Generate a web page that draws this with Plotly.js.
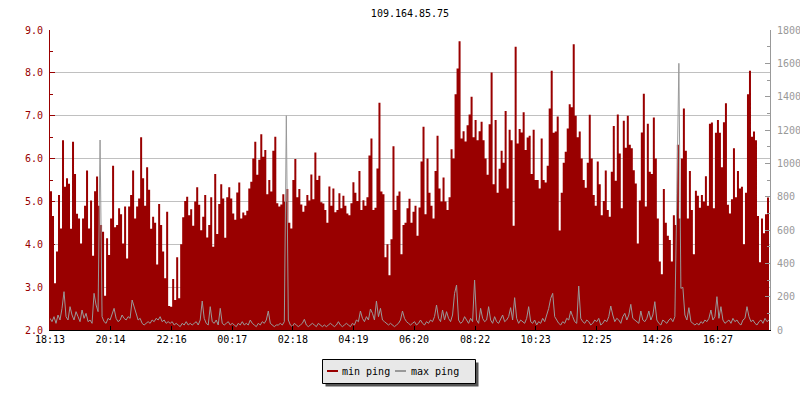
<!DOCTYPE html>
<html>
<head>
<meta charset="utf-8">
<script src="https://cdn.plot.ly/plotly-3.0.1.min.js"></script>
<style>html,body{margin:0;padding:0;background:#fff;}#chart{width:800px;height:400px;}</style>
</head>
<body>
<div id="chart"></div>
<script>
// Chart title
const chartTitle = '109.164.85.75';

// Sample interval in minutes (24 h of data, one sample every 4 minutes, starting 18:13)
const sampleMinutes = 4;

// min ping (left axis), one value per sample
const minPing = [
  5.24,4.66,3.09,3.83,5.15,4.37,6.43,5.34,5.54,5.41,4.36,6.39,5.64,4.71,4.6,4.02,4.6,4.9,5.72,4.37,
  5.02,3.73,5.24,5.58,4.9,4.45,4.29,2.8,4.14,3.75,4.6,5.83,4.4,4.45,4.84,4.7,4.02,4.88,3.67,4.88,
  5.15,5.72,4.6,4.88,5.07,6.5,5.54,4.9,5.8,5.27,4.36,4.64,4.5,3.53,4.94,4.45,3.83,3.21,4.76,2.56,
  2.54,3.19,2.7,3.7,2.74,4.0,4.63,5.01,5.11,4.68,4.82,4.43,5.0,5.33,4.92,4.33,4.64,5.15,4.16,4.45,
  5.1,3.94,5.64,4.24,4.94,5.4,5.07,4.15,5.1,5.33,5.07,4.72,4.57,5.21,5.44,4.6,4.74,4.68,4.78,5.3,
  5.46,6.0,6.39,5.62,5.97,6.57,6.04,6.2,5.17,5.5,5.23,6.18,6.51,4.96,4.88,4.93,5.17,4.99,5.29,4.5,
  4.37,5.5,5.99,5.1,5.29,4.93,4.76,4.9,5.15,5.02,5.63,5.05,6.14,5.5,5.6,4.98,4.95,4.8,4.5,5.35,
  4.9,5.3,4.75,4.8,5.19,4.84,5.13,4.9,4.72,4.68,4.96,5.45,5.2,5.01,5.71,4.8,5.03,4.9,5.1,6.07,
  6.47,4.8,4.85,5.77,7.3,5.23,5.17,3.7,4.0,3.28,4.12,6.29,4.8,5.13,5.23,3.77,4.45,4.5,4.84,5.06,
  4.5,4.76,4.9,4.2,4.86,5.93,6.74,4.7,6.0,5.2,4.9,4.6,5.71,6.53,5.3,5.0,5.56,5.0,4.8,5.1,
  6.22,6.0,7.5,8.1,8.74,6.47,6.64,6.4,6.78,7.03,7.44,6.5,6.9,6.43,6.64,6.86,6.43,6.0,5.62,6.8,
  8.01,5.4,6.9,5.2,5.76,6.18,5.9,7.11,5.3,6.67,6.43,4.43,8.61,6.35,6.69,6.61,7.08,6.2,6.49,6.53,
  5.64,6.67,5.5,5.5,5.3,6.47,5.5,5.44,5.83,7.17,8.05,6.6,6.63,6.98,4.32,5.2,5.9,6.16,6.7,7.27,
  7.2,8.67,7.0,6.5,6.63,6.0,5.5,5.32,5.9,7.02,6.0,5.15,4.9,5.93,5.4,4.68,5.01,5.72,4.8,4.64,
  5.69,6.76,5.48,7.03,6.12,4.84,6.88,6.25,7.0,6.32,6.24,5.73,5.42,4.02,5.02,6.61,7.51,4.88,6.81,5.69,
  5.64,6.96,6.0,4.6,3.6,3.3,5.29,4.5,4.2,4.1,3.6,4.68,4.45,6.32,4.6,6.0,7.17,6.18,4.6,5.71,
  4.8,3.77,5.25,5.13,4.85,5.15,5.0,5.59,4.9,6.81,6.84,4.84,6.6,6.9,6.6,5.8,6.85,7.29,4.92,4.72,
  5.05,6.24,5.1,5.71,5.3,5.34,4.0,5.2,7.5,8.05,6.51,6.63,6.43,4.66,3.58,4.6,4.26,4.7,5.09,5.3
];

// max ping (right axis), one value per sample
const maxPing = [
  70,50,80,40,90,60,130,230,80,60,140,90,60,110,80,50,120,70,100,50,
  60,40,220,150,110,1140,80,50,40,70,60,90,130,70,50,60,90,70,60,80,
  70,180,140,90,60,70,40,30,40,50,40,60,50,70,60,80,50,60,40,50,
  40,50,30,40,30,20,40,30,50,30,40,30,40,50,30,60,174,70,40,30,
  140,50,40,60,30,130,40,30,40,50,30,40,30,20,40,30,50,30,40,30,
  60,40,30,20,40,30,50,40,60,114,40,30,20,30,30,40,30,50,1286,60,
  30,20,40,30,20,30,40,64,30,20,30,40,30,20,40,30,20,30,20,30,
  40,30,20,30,50,30,20,30,40,30,20,40,30,60,50,114,70,50,80,60,
  126,100,60,174,80,130,60,50,40,30,40,30,20,30,40,60,114,70,50,40,
  30,40,50,30,40,60,40,30,50,40,60,50,80,150,70,50,120,60,110,70,
  50,90,220,270,60,40,50,80,60,40,70,50,300,60,40,130,70,50,60,140,
  60,40,80,50,40,70,90,50,60,80,134,60,194,70,40,60,50,40,70,140,
  50,40,60,30,50,40,70,50,90,130,190,220,80,60,40,30,50,40,70,60,
  114,80,50,40,264,70,50,40,60,50,30,40,60,50,70,30,40,60,50,80,
  144,90,50,70,60,40,80,100,60,90,154,70,60,50,40,114,60,50,70,114,
  60,90,170,60,40,30,60,50,40,60,70,50,80,820,1600,250,256,90,60,134,
  50,40,30,40,30,50,40,60,50,70,120,60,80,200,70,140,60,40,50,60,
  40,70,50,60,40,30,60,70,140,80,50,60,40,30,50,60,40,70,50,60
];

// x axis tick labels and their offsets (minutes after 18:13)
const tickLabels  = ['18:13','20:14','22:16','00:17','02:18','04:19','06:20','08:22','10:23','12:25','14:26','16:27'];
const tickMinutes = [0,121,243,364,485,606,727,849,970,1092,1213,1334];

const seriesNames = ['min ping','max ping'];
const minColor = '#990000';
const maxColor = '#999999';

const times = minPing.map((_, i) => i * sampleMinutes);

const FONT = 'DejaVu Sans Mono, Liberation Mono, monospace';

// plot-area pixel helpers for the hand-built legend
const L = 50, T = 30, W = 720, H = 300;
const px = x => (x - L) / W;
const py = y => (T + H - y) / H;

const traces = [
  {
    x: times, y: minPing, name: seriesNames[0], type: 'scatter', mode: 'lines',
    line: {shape: 'hv', width: 0, color: minColor},
    fill: 'tozeroy', fillcolor: minColor, yaxis: 'y', hoverinfo: 'skip'
  },
  {
    x: times, y: maxPing, name: seriesNames[1], type: 'scatter', mode: 'lines',
    line: {shape: 'linear', width: 1, color: maxColor}, yaxis: 'y2', hoverinfo: 'skip'
  }
];

const layout = {
  width: 800, height: 400,
  margin: {l: L, r: 800 - L - W, t: T, b: 400 - T - H, pad: 0},
  paper_bgcolor: '#ffffff', plot_bgcolor: '#ffffff',
  showlegend: false,
  font: {family: FONT, size: 10, color: '#000'},
  title: {text: chartTitle, x: 0.5, xref: 'paper', y: 1 - 13/400, yanchor: 'middle',
          font: {family: FONT, size: 10, color: '#000'}},
  xaxis: {
    range: [0, 1438], tickmode: 'array', tickvals: tickMinutes, ticktext: tickLabels,
    showgrid: false, zeroline: false, showline: true, linecolor: '#000', linewidth: 1,
    ticks: 'inside', ticklen: 4, tickcolor: '#000', tickwidth: 1,
    tickfont: {family: FONT, size: 10, color: '#000'}, fixedrange: true
  },
  yaxis: {
    range: [2, 9], dtick: 1, tick0: 0, tickformat: '.1f',
    showgrid: true, gridcolor: '#c0c0c0', gridwidth: 1, zeroline: false,
    showline: true, linecolor: minColor, linewidth: 1,
    ticks: 'inside', ticklen: 5, tickcolor: minColor, tickwidth: 1,
    minor: {dtick: 0.5, ticks: 'inside', ticklen: 3, tickcolor: minColor, showgrid: false},
    tickfont: {family: FONT, size: 10, color: minColor}, ticklabelstandoff: 4, fixedrange: true
  },
  yaxis2: {
    range: [0, 1800], dtick: 200, overlaying: 'y', side: 'right',
    showgrid: false, zeroline: false, showline: true, linecolor: maxColor, linewidth: 1,
    ticks: 'inside', ticklen: 5, tickcolor: maxColor, tickwidth: 1,
    minor: {dtick: 100, ticks: 'inside', ticklen: 3, tickcolor: maxColor, showgrid: false},
    tickfont: {family: FONT, size: 10, color: maxColor}, ticklabelstandoff: 4, fixedrange: true
  },
  shapes: [
    {type: 'rect', xref: 'paper', yref: 'paper', x0: px(325.5), x1: px(478.5), y0: py(362.5), y1: py(386.5),
     fillcolor: '#555555', line: {width: 0}, layer: 'above'},
    {type: 'rect', xref: 'paper', yref: 'paper', x0: px(322.5), x1: px(475.5), y0: py(359.5), y1: py(383.5),
     fillcolor: '#e8e8e8', line: {width: 1, color: '#000'}, layer: 'above'},
    {type: 'line', xref: 'paper', yref: 'paper', x0: px(327), x1: px(338), y0: py(371), y1: py(371),
     line: {width: 2, color: minColor}, layer: 'above'},
    {type: 'line', xref: 'paper', yref: 'paper', x0: px(395), x1: px(406), y0: py(371), y1: py(371),
     line: {width: 2, color: maxColor}, layer: 'above'}
  ],
  annotations: [
    {text: seriesNames[0], xref: 'paper', yref: 'paper', x: px(340), y: py(371), xanchor: 'left', yanchor: 'middle',
     showarrow: false, font: {family: FONT, size: 10, color: '#000'}},
    {text: seriesNames[1], xref: 'paper', yref: 'paper', x: px(408.5), y: py(371), xanchor: 'left', yanchor: 'middle',
     showarrow: false, font: {family: FONT, size: 10, color: '#000'}}
  ]
};

Plotly.newPlot('chart', traces, layout, {staticPlot: true, displayModeBar: false});
</script>
</body>
</html>
